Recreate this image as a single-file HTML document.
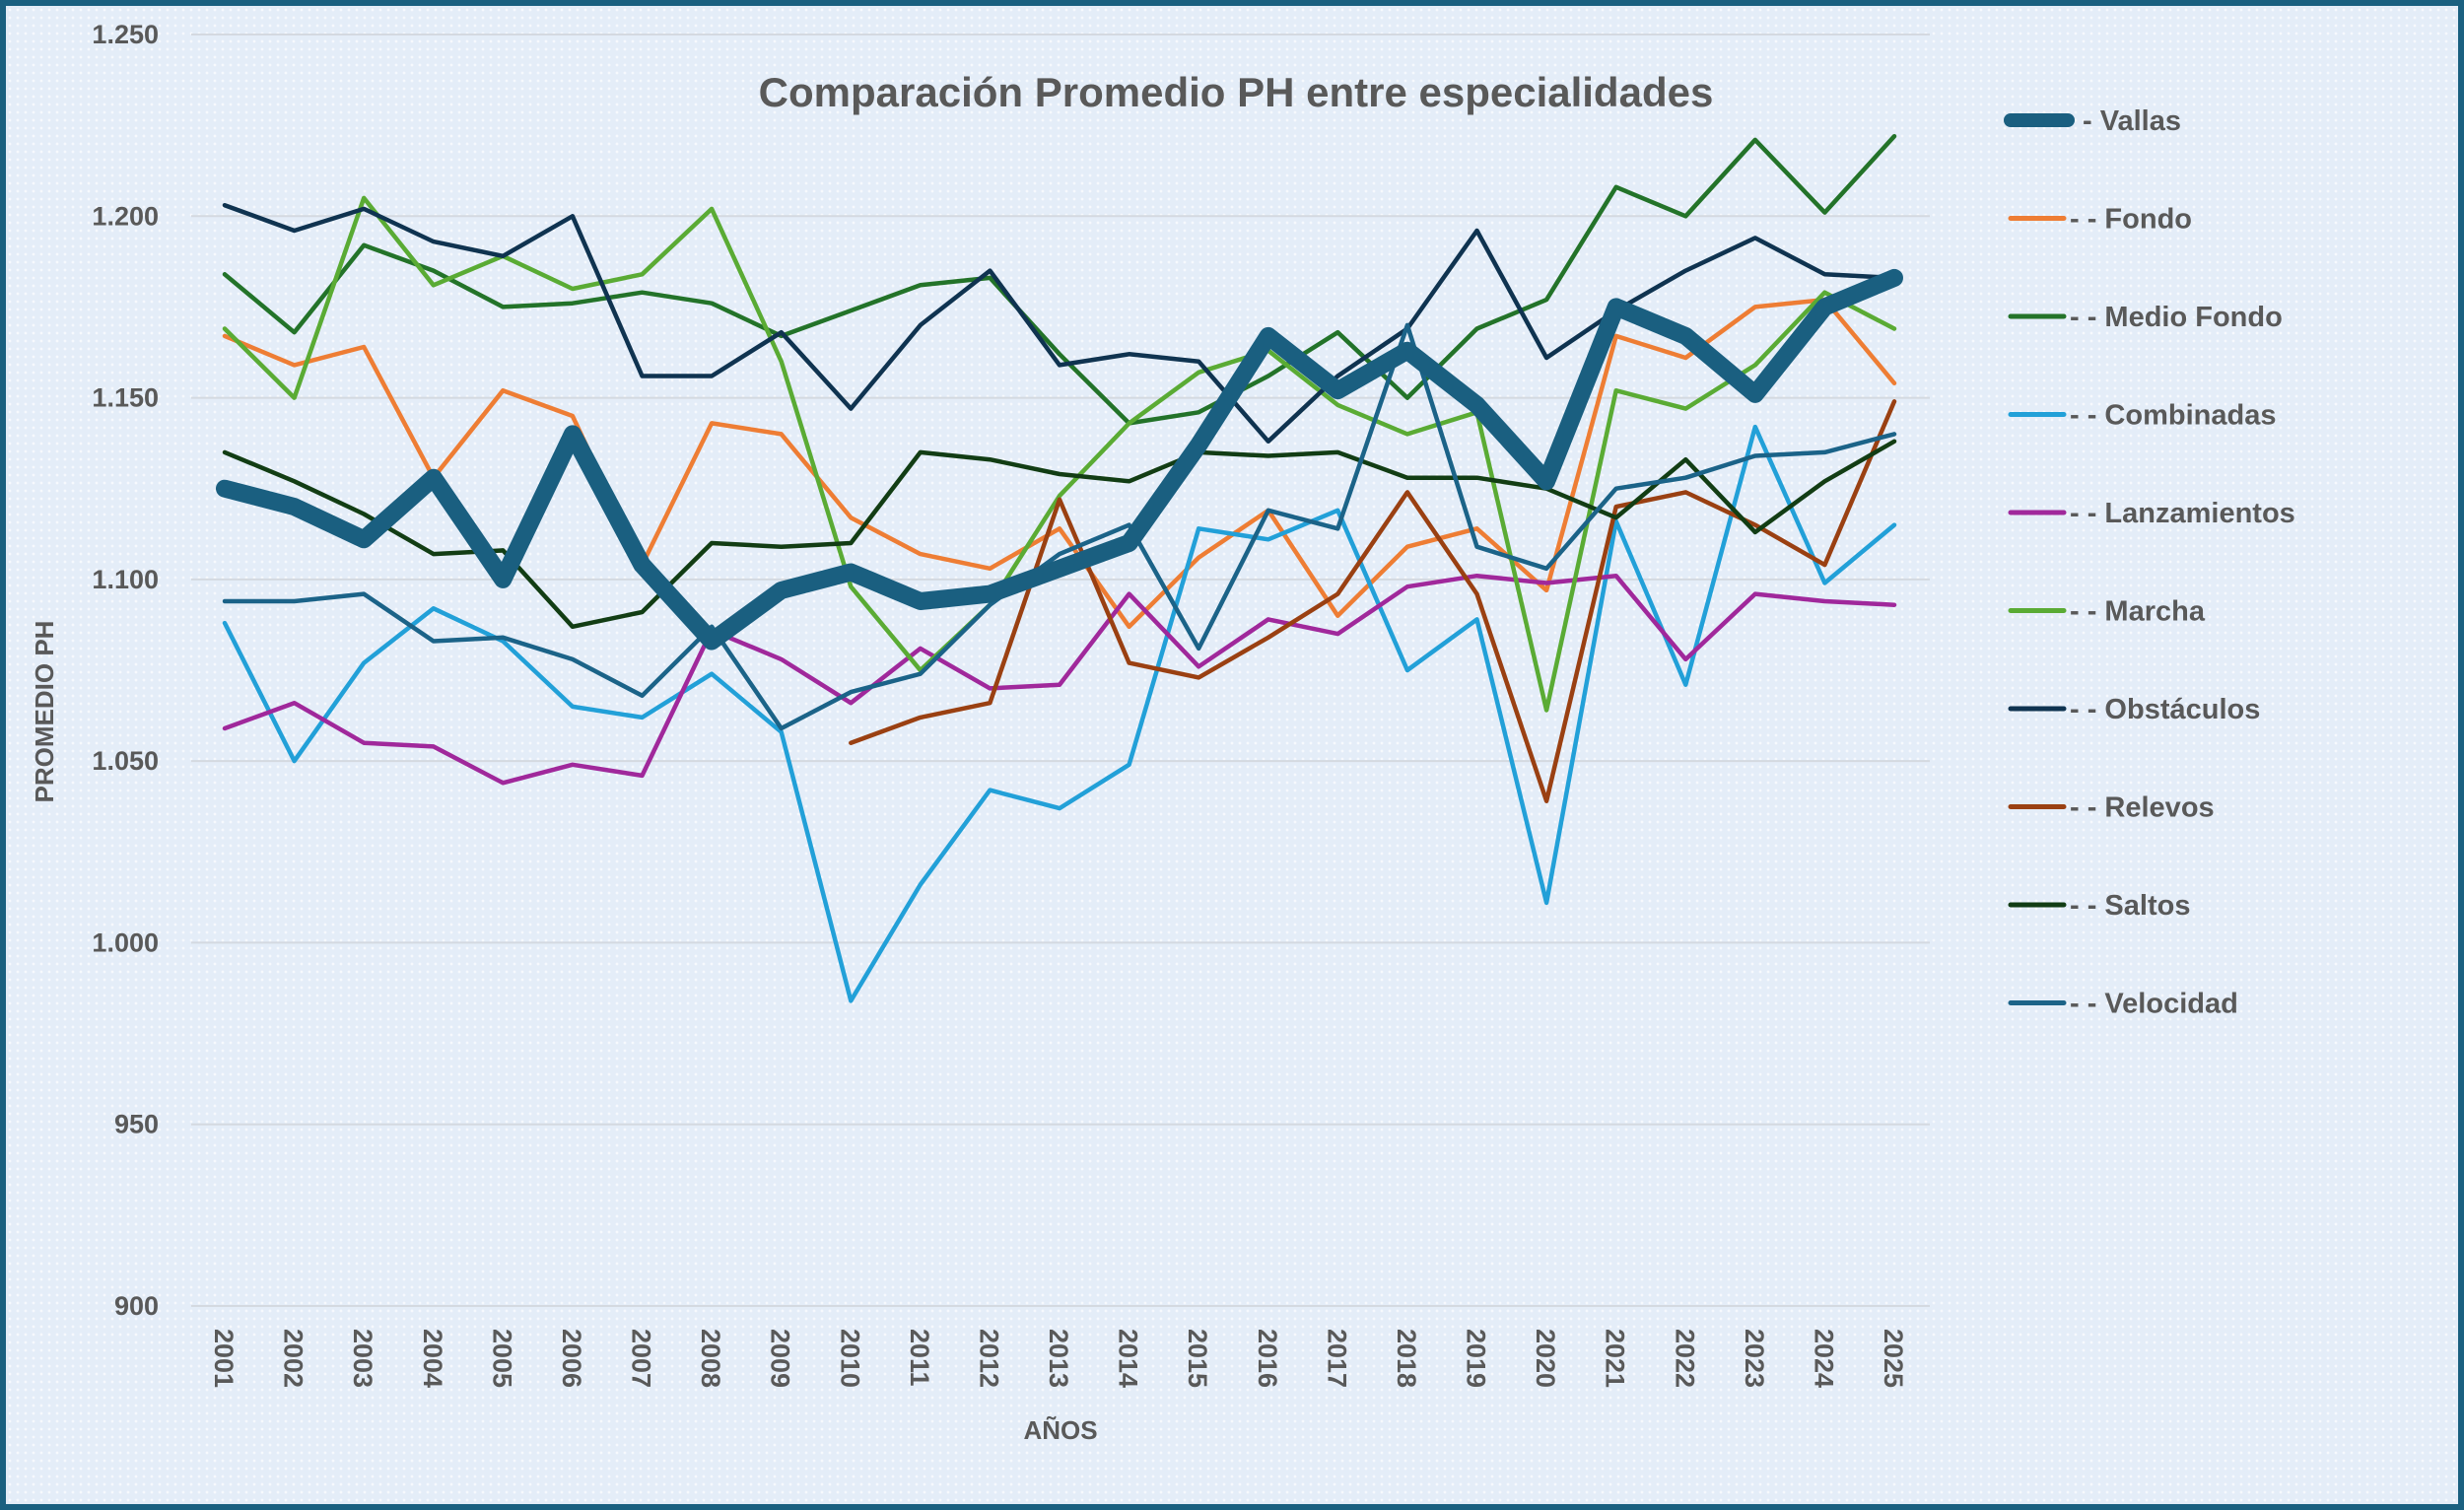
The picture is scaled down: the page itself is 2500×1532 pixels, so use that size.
<!DOCTYPE html>
<html><head><meta charset="utf-8"><style>
html,body{margin:0;padding:0;}
body{width:2500px;height:1532px;overflow:hidden;font-family:"Liberation Sans",sans-serif;}
#wrap{position:absolute;left:0;top:0;width:2488px;height:1520px;border:6px solid #1a6080;background-color:#e4edf8;background-image:radial-gradient(circle,#f6f9fd 1.2px,transparent 1.6px);background-size:8px 8px;}
svg{position:absolute;left:0;top:0;}
text{font-family:"Liberation Sans",sans-serif;font-weight:bold;fill:#595959;}
</style></head><body>
<div id="wrap"></div>
<svg id="chart" width="2500" height="1532"></svg>
<script>
const years=[2001,2002,2003,2004,2005,2006,2007,2008,2009,2010,2011,2012,2013,2014,2015,2016,2017,2018,2019,2020,2021,2022,2023,2024,2025];
const yTicks=[900,950,1000,1050,1100,1150,1200,1250];
const yTickLabels=["900","950","1.000","1.050","1.100","1.150","1.200","1.250"];
const seriesNames=["Vallas","Fondo","Medio Fondo","Combinadas","Lanzamientos","Marcha","Obstáculos","Relevos","Saltos","Velocidad"];
const vallas=[1125,1120,1111,1128,1100,1140,1104,1083,1097,1102,1094,1096,1103,1110,1137,1167,1152,1163,1148,1127,1175,1167,1151,1175,1183];
const fondo=[1167,1159,1164,1128,1152,1145,1104,1143,1140,1117,1107,1103,1114,1087,1106,1119,1090,1109,1114,1097,1167,1161,1175,1177,1154];
const medioFondo=[1184,1168,1192,1185,1175,1176,1179,1176,1167,1174,1181,1183,1162,1143,1146,1156,1168,1150,1169,1177,1208,1200,1221,1201,1222];
const combinadas=[1088,1050,1077,1092,1083,1065,1062,1074,1058,984,1016,1042,1037,1049,1114,1111,1119,1075,1089,1011,1116,1071,1142,1099,1115];
const lanzamientos=[1059,1066,1055,1054,1044,1049,1046,1086,1078,1066,1081,1070,1071,1096,1076,1089,1085,1098,1101,1099,1101,1078,1096,1094,1093];
const marcha=[1169,1150,1205,1181,1189,1180,1184,1202,1160,1098,1075,1093,1123,1143,1157,1163,1148,1140,1146,1064,1152,1147,1159,1179,1169];
const obstaculos=[1203,1196,1202,1193,1189,1200,1156,1156,1168,1147,1170,1185,1159,1162,1160,1138,1156,1169,1196,1161,1174,1185,1194,1184,1183];
const relevos=[null,null,null,null,null,null,null,null,null,1055,1062,1066,1122,1077,1073,1084,1096,1124,1096,1039,1120,1124,1115,1104,1149];
const saltos=[1135,1127,1118,1107,1108,1087,1091,1110,1109,1110,1135,1133,1129,1127,1135,1134,1135,1128,1128,1125,1117,1133,1113,1127,1138];
const velocidad=[1094,1094,1096,1083,1084,1078,1068,1087,1059,1069,1074,1093,1107,1115,1081,1119,1114,1170,1109,1103,1125,1128,1134,1135,1140];
const allSeries=[vallas,fondo,medioFondo,combinadas,lanzamientos,marcha,obstaculos,relevos,saltos,velocidad];
const colors=["#1a5f80","#ee7d34","#237329","#22a0d8","#a0289b","#5aab34","#0f3350","#9a4012","#123d14","#1b6388"];
const widths=[18,4.5,4.5,4.5,4.5,4.5,4.5,4.5,4.5,4.5];

const svg=document.getElementById('chart');
const NS="http://www.w3.org/2000/svg";
const X0=228,X1=1922,Y900=1325,Y1250=35;
function xs(i){return X0+(X1-X0)*i/(years.length-1);}
function ys(v){return Y900-(v-900)*(Y900-Y1250)/350;}
function mk(t,a){const e=document.createElementNS(NS,t);for(const k in a)e.setAttribute(k,a[k]);svg.appendChild(e);return e;}

yTicks.forEach((v,i)=>{
  const g=mk('line',{x1:194,x2:1958,y1:ys(v),y2:ys(v),stroke:'#d4d9e0','stroke-width':2});
  
  
  const t=mk('text',{x:161,y:ys(v)+9,'text-anchor':'end','font-size':27});
  t.textContent=yTickLabels[i];
  
  
});
years.forEach((yr,i)=>{
  const t=mk('text',{x:0,y:0,'font-size':27,transform:`translate(${xs(i)-10},1348) rotate(90)`});
  t.textContent=yr;
  
  
});
const title=mk('text',{x:1254,y:108,'text-anchor':'middle','font-size':42});
title.textContent="Comparación Promedio PH entre especialidades";


const xt=mk('text',{x:1076,y:1460,'text-anchor':'middle','font-size':26});
xt.textContent="AÑOS";


const yt=mk('text',{x:0,y:0,'text-anchor':'middle','font-size':26,transform:'translate(54,722) rotate(-90)'});
yt.textContent="PROMEDIO PH";



const order=[1,2,3,4,5,6,7,8,9,0];
order.forEach(s=>{
  const d=allSeries[s];let p='';let pen=false;
  d.forEach((v,i)=>{if(v==null){pen=false;return;}p+=(pen?'L':'M')+xs(i).toFixed(1)+' '+ys(v).toFixed(1)+' ';pen=true;});
  const path=mk('path',{d:p,fill:'none',stroke:colors[s],'stroke-width':widths[s],'stroke-linejoin':'round','stroke-linecap':'round'});
  
  
});
seriesNames.forEach((n,s)=>{
  const y=122+s*99.5;
  const l=mk('line',{x1:s==0?2040:2040,x2:s==0?2098:2094,y1:y,y2:y,stroke:colors[s],'stroke-width':s==0?14:5,'stroke-linecap':'round'});
  
  
  const t=mk('text',{x:s==0?2113:2100,y:y+10,'font-size':29});
  t.textContent=(s==0?'- ':'- - ')+n;
  
  
});
</script>
</body></html>
